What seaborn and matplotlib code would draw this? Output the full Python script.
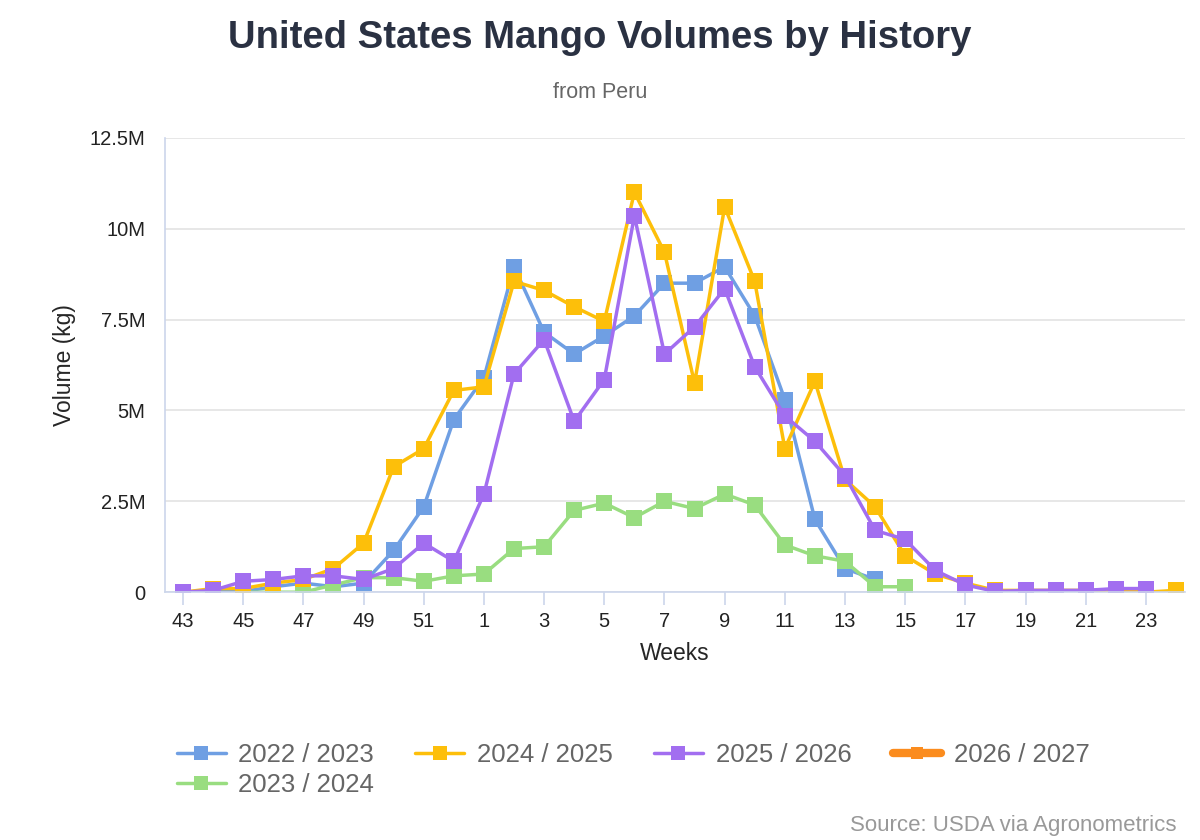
import numpy as np
import pandas as pd
import matplotlib
matplotlib.use("Agg")
import matplotlib.pyplot as plt
from matplotlib.lines import Line2D
import seaborn as sns
from matplotlib.ticker import FuncFormatter

weeks = [43,44,45,46,47,48,49,50,51,52] + list(range(1, 25))
nan = np.nan
s2223 = [0,0.05,0.02,0.15,0.25,0.15,0.25,1.15,2.35,4.75,5.9,8.95,7.15,6.55,7.05,7.6,8.5,8.5,8.95,7.6,5.3,2.0,0.65,0.35] + [nan]*10
s2324 = [nan,nan,0,0,0,0.2,0.4,0.4,0.3,0.45,0.5,1.2,1.25,2.25,2.45,2.05,2.5,2.3,2.7,2.4,1.3,1.0,0.85,0.15,0.15] + [nan]*9
s2425 = [0,0.1,0.1,0.25,0.35,0.65,1.35,3.45,3.95,5.55,5.65,8.55,8.3,7.85,7.45,11.0,9.35,5.75,10.6,8.55,3.95,5.8,3.1,2.35,1.0,0.5,0.25,0.05,0.05,0.05,0.05,0.05,0,0.05]
s2526 = [0,0.05,0.3,0.35,0.45,0.45,0.35,0.65,1.35,0.85,2.7,6.0,6.95,4.7,5.85,10.35,6.55,7.3,8.35,6.2,4.85,4.15,3.2,1.7,1.45,0.6,0.2,0.02,0.05,0.05,0.05,0.1,0.1,nan]
s2627 = [nan]*34
series = {"2022 / 2023": s2223, "2023 / 2024": s2324, "2024 / 2025": s2425,
          "2025 / 2026": s2526, "2026 / 2027": s2627}
colors = ["#6f9fe3", "#99dd80", "#fdbf0a", "#a26ef0", "#fb8c1e"]

rows = []
for name, vals in series.items():
    for i, (w, v) in enumerate(zip(weeks, vals)):
        rows.append({"idx": i, "week": w, "season": name, "vol": v * 1e6})
df = pd.DataFrame(rows)

sns.set_theme(style="white")
plt.rcParams['font.family'] = ['Liberation Sans', 'DejaVu Sans']
fig = plt.figure(figsize=(12, 8.4), dpi=100)
ax = fig.add_axes([0.1375, 0.295, 0.85, 0.541])

handles = []
for (name, vals), c in zip(series.items(), colors):
    d = df[(df.season == name) & df.vol.notna()]
    if len(d):
        sns.lineplot(data=d, x="idx", y="vol", ax=ax, color=c, lw=2.5, marker="s",
                     markersize=11, markeredgewidth=0, legend=False)
        handles.append(Line2D([], [], color=c, lw=2.5, marker="s", ms=10, mew=0, label=name))
    else:
        handles.append(Line2D([], [], color=c, lw=6, marker="s", ms=9, mew=0, label=name))

ax.set_xlim(-0.6, 33.3)
ax.set_ylim(0, 12.5e6)
ax.set_yticks(np.arange(0, 12.6e6, 2.5e6))
ax.yaxis.set_major_formatter(FuncFormatter(lambda v, p: "0" if v == 0 else f"{v/1e6:g}M"))
ticks = list(range(0, 34, 2))
ax.set_xticks(ticks)
ax.set_xticklabels([str(weeks[i]) for i in ticks])
ax.grid(axis="y", color="#e3e3e3", lw=1.2)
for s in ["top", "right"]:
    ax.spines[s].set_visible(False)
for s in ["left", "bottom"]:
    ax.spines[s].set_color("#ccd6eb")
    ax.spines[s].set_linewidth(1.2)
ax.tick_params(axis="x", bottom=True, direction="out", length=9, color="#ccd6eb",
               width=1.2, labelsize=14.5, pad=5, labelcolor="#222222")
ax.tick_params(axis="y", length=0, labelsize=14.5, pad=14, labelcolor="#222222")
ax.set_xlabel("Weeks", fontsize=16.5, labelpad=8)
ax.set_ylabel("Volume (kg)", fontsize=16.5, labelpad=10)

fig.text(0.5, 0.955, "United States Mango Volumes by History", ha="center", va="center",
         fontsize=27.5, fontweight="bold", color="#2a3142")
fig.text(0.5, 0.89, "from Peru", ha="center", va="center", fontsize=15.5, color="#666666")
fig.legend(handles=handles, loc="upper left", bbox_to_anchor=(0.128, 0.143),
           ncol=4, frameon=False, fontsize=18.5, handlelength=1.9, columnspacing=1.6,
           labelcolor="#666666", handletextpad=0.5, labelspacing=0.25)
fig.text(0.98, 0.005, "Source: USDA via Agronometrics", ha="right", va="bottom",
         fontsize=16, color="#999999")
fig.savefig("out.png", dpi=100)
